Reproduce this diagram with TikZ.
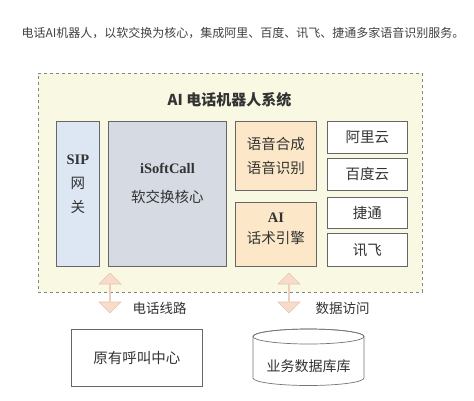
\documentclass[tikz,border=0pt]{standalone}
\usepackage{fontspec}
\setmainfont{Noto Sans CJK SC}
\newfontfamily\romanfont{Liberation Serif}
\usetikzlibrary{positioning, shapes.arrows}
\definecolor{sysfill}{HTML}{F9F9E3}
\definecolor{sipfill}{HTML}{DDE7F3}
\definecolor{corefill}{HTML}{D5DAE3}
\definecolor{enginefill}{HTML}{FCE8C8}
\definecolor{linkfill}{HTML}{F8DCCB}
\definecolor{linkline}{HTML}{E9C2AD}
\definecolor{boxline}{HTML}{666666}
\definecolor{inktext}{HTML}{333333}
\tikzset{
  sysbox/.style={rectangle, draw=boxline!80, dashed, line width=0.7pt, fill=sysfill, anchor=north west, inner sep=0pt},
  block/.style={rectangle, draw=boxline, line width=0.8pt, anchor=north west, inner sep=0pt},
  blocktext/.style={font=\fontsize{14.5}{24}\selectfont, text=inktext, align=center},
  linkarrow/.style={double arrow, draw=linkline, fill=linkfill, line width=0.6pt, rotate=90, minimum height=40pt, minimum width=22pt, double arrow head extend=4.5pt, inner sep=0pt},
  linklabel/.style={font=\fontsize{13.5}{16}\selectfont, text=inktext, anchor=west},
  dbline/.style={draw=boxline!90, line width=0.7pt},
}

\begin{document}
\begin{tikzpicture}[x=1pt, y=-1pt]
  \useasboundingbox (0,0) rectangle (474,400);

  \node[font=\fontsize{12}{14}\selectfont, text=black!75, anchor=west] (caption) at (18,33) {电话AI机器人，以软交换为核心，集成阿里、百度、讯飞、捷通多家语音识别服务。};

  % system frame
  \node[sysbox, minimum width=384pt, minimum height=219pt] (system) at (38,73) {};
  \node[font=\fontsize{15}{18}\selectfont\bfseries, text=inktext] (title) at (229.5,100) {AI 电话机器人系统};

  \node[block, fill=sipfill, minimum width=43pt, minimum height=145pt] (sip) at (56,121) {};
  \node[block, fill=corefill, minimum width=118pt, minimum height=145pt] (core) at (108,121) {};
  \node[block, fill=enginefill, minimum width=81pt, minimum height=69pt] (speech) at (235,121) {};
  \node[block, fill=enginefill, minimum width=81pt, minimum height=64pt] (engine) at (235,202) {};

  \node[block, fill=white, minimum width=80pt, minimum height=32pt] (ali) at (327,121) {};
  \node[block, fill=white, minimum width=80pt, minimum height=32pt] (baidu) at (327,158) {};
  \node[block, fill=white, minimum width=80pt, minimum height=31pt] (jietong) at (327,197) {};
  \node[block, fill=white, minimum width=80pt, minimum height=33pt] (xunfei) at (327,233) {};

  \node[blocktext] (sipText) at ([yshift=10pt]sip.center) {{\romanfont\bfseries SIP}\\网\\关};
  \node[blocktext, font=\fontsize{14.5}{29}\selectfont] (coreText) at ([yshift=10pt]core.center) {{\romanfont\bfseries iSoftCall}\\软交换核心};
  \node[blocktext] (speechText) at (speech.center) {语音合成\\语音识别};
  \node[blocktext, font=\fontsize{14.5}{21}\selectfont] (engineText) at ([yshift=6pt]engine.center) {{\romanfont\bfseries AI}\\话术引擎};
  \node[blocktext] at (ali.center) {阿里云};
  \node[blocktext] at (baidu.center) {百度云};
  \node[blocktext] at (jietong.center) {捷通};
  \node[blocktext] at (xunfei.center) {讯飞};

  % links to the outside
  \node[linkarrow] (phoneLink) at (110,293) {};
  \node[linkarrow] (dataLink) at (289,293) {};
  \node[linklabel] (phoneLabel) at (129,308) {电话线路};
  \node[linklabel] (dataLabel) at (312,308) {数据访问};

  \node[block, fill=white, minimum width=131pt, minimum height=57pt] (callcenter) at (71,329) {};
  \node[blocktext] at (callcenter.center) {原有呼叫中心};

  % database drum
  \draw[dbline, fill=white] (253,336.5) -- (253,378)
    arc[start angle=180, end angle=0, x radius=55.5, y radius=7.5] -- (364,336.5)
    arc[start angle=0, end angle=-180, x radius=55.5, y radius=7.5] -- cycle;
  \draw[dbline] (308.5,336.5) ellipse [x radius=55.5, y radius=7.5];
  \node[blocktext, font=\fontsize{14}{16}\selectfont] (database) at (308.5,366) {业务数据库库};
\end{tikzpicture}
\end{document}
